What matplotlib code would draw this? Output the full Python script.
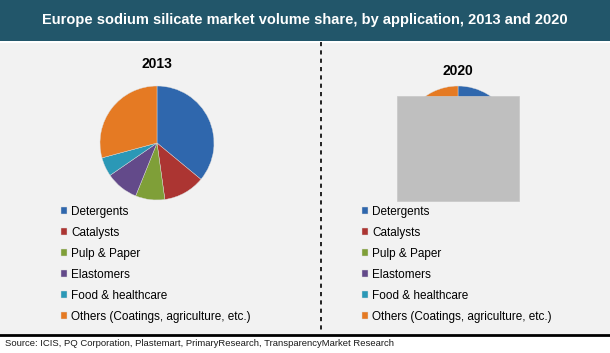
import matplotlib.pyplot as plt
from matplotlib.patches import Rectangle
from matplotlib.lines import Line2D

# data (volume share, %)
categories = ["Detergents", "Catalysts", "Pulp & Paper", "Elastomers",
              "Food & healthcare", "Others (Coatings, agriculture, etc.)"]
share_2013 = [36.0, 11.8, 8.3, 9.3, 5.4, 29.2]
share_2020 = [35.0, 12.5, 8.5, 9.0, 6.0, 29.0]
years = ["2013", "2020"]
colors = ["#2f67ad", "#ac3532", "#7f9f38", "#634a8a", "#2b98b6", "#e57a23"]

W, H = 610, 353
fig = plt.figure(figsize=(W / 100, H / 100), dpi=100)
fig.patch.set_facecolor("white")
plt.rcParams["font.family"] = ["Liberation Sans", "DejaVu Sans"]


def fx(x):
    return x / W


def fy(y):
    return 1 - y / H


# background panels
fig.add_artist(Rectangle((0, fy(334)), 1, fy(43) - fy(334), transform=fig.transFigure,
                         facecolor="#f2f2f2", edgecolor="none", zorder=0))
fig.add_artist(Rectangle((0, fy(41)), 1, 41 / H, transform=fig.transFigure,
                         facecolor="#22566a", edgecolor="none", zorder=0))
fig.add_artist(Line2D([0, 1], [fy(334.5), fy(334.5)], transform=fig.transFigure,
                      color="black", lw=2, zorder=1))
fig.add_artist(Line2D([fx(320.5), fx(320.5)], [fy(42), fy(333)], transform=fig.transFigure,
                      color="black", lw=1.2, dashes=(2.5, 2.5), zorder=1))

fig.text(0.5, fy(20), "Europe sodium silicate market volume share, by application, 2013 and 2020",
         color="white", fontsize=10.5, fontweight="bold", ha="center", va="center")
fig.text(fx(5), fy(343), "Source: ICIS, PQ Corporation, Plastemart, PrimaryResearch, TransparencyMarket Research",
         fontsize=6.8, ha="left", va="center", color="#1a1a1a")

centers = [(157, 143), (458, 143)]
title_y = [64, 71]
legend_x = [60, 361]
R = 57
for i, (vals, yr) in enumerate(zip([share_2013, share_2020], years)):
    cx, cy = centers[i]
    # soft shadow under the pie
    sh = fig.add_axes([fx(cx - R), fy(cy + R + 3), 2 * R / W, 2 * R / H])
    sh.set_xlim(-1, 1)
    sh.set_ylim(-1, 1)
    sh.axis("off")
    sh.pie([1], colors=["#d0d0d0"], radius=0.98, center=(0, -0.04))
    ax = fig.add_axes([fx(cx - R), fy(cy + R), 2 * R / W, 2 * R / H])
    wedges, _ = ax.pie(vals, colors=colors, startangle=90, counterclock=False,
                       wedgeprops=dict(linewidth=0.3, edgecolor="#dddddd"))
    ax.set_xlim(-1, 1)
    ax.set_ylim(-1, 1)
    ax.axis("off")
    fig.text(fx(cx), fy(title_y[i]), yr, fontsize=10, fontweight="bold", ha="center", va="center")
    fig.legend(wedges, categories, loc="upper left",
               bbox_to_anchor=(fx(legend_x[i] + 1), fy(206)), frameon=False,
               fontsize=8.5, handlelength=0.5, handleheight=0.5, handletextpad=0.35,
               labelspacing=0.76, borderpad=0, borderaxespad=0)

# grey box covering most of the 2020 pie
fig.add_artist(Rectangle((fx(397), fy(201)), 122 / W, 105 / H, transform=fig.transFigure,
                         facecolor="#bfbfbf", edgecolor="#c8c8c8", lw=0.5, zorder=5))

fig.savefig("out.png", dpi=100, facecolor=fig.get_facecolor())
